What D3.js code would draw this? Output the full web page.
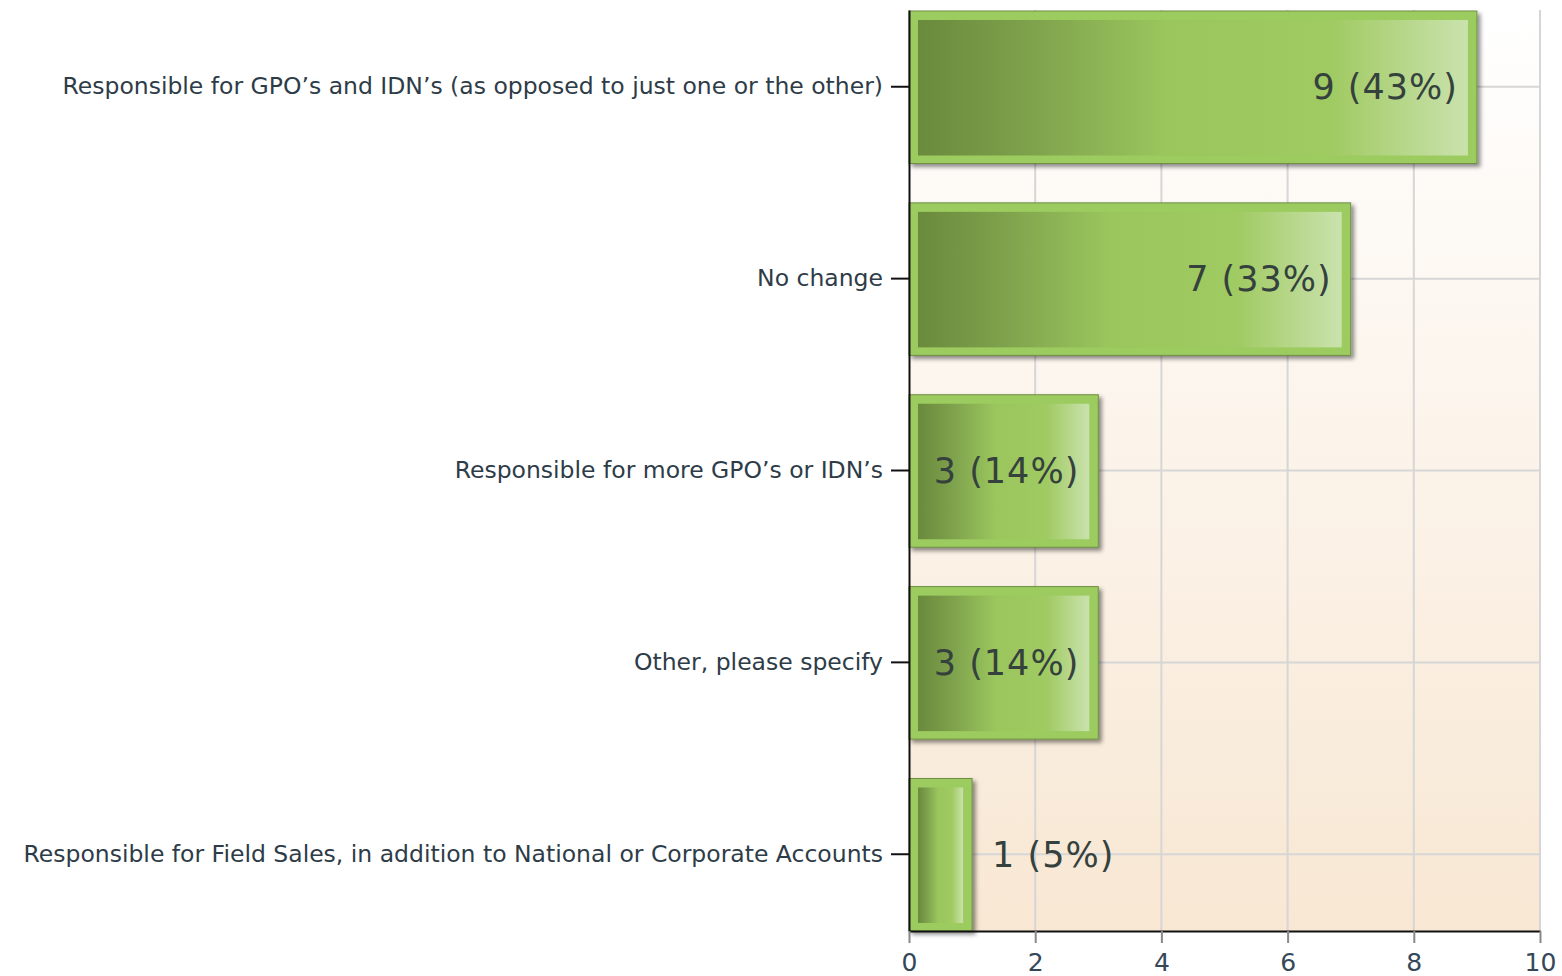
<!DOCTYPE html>
<html><head><meta charset="utf-8">
<script src="https://cdn.jsdelivr.net/npm/d3@7"></script>
<style>html,body{margin:0;padding:0;background:#fff;}svg{display:block;}</style>
</head><body>
<svg id="chart" width="1562" height="976"></svg>
<script>
const categories = [
  "Responsible for GPO’s and IDN’s (as opposed to just one or the other)",
  "No change",
  "Responsible for more GPO’s or IDN’s",
  "Other, please specify",
  "Responsible for Field Sales, in addition to National or Corporate Accounts"
];
const counts = [9, 7, 3, 3, 1];
const percents = [43, 33, 14, 14, 5];
const xTicks = [0, 2, 4, 6, 8, 10];

const svg = d3.select("#chart");
const m = {left: 909, right: 1540, top: 10, bottom: 931};
const x = d3.scaleLinear().domain([0, 10]).range([m.left, m.right]);
const y = d3.scaleBand().domain(categories).range([m.top, m.bottom]).paddingInner(0.2).paddingOuter(0);

const defs = svg.append("defs");
const bg = defs.append("linearGradient").attr("id","bg").attr("x1",0).attr("y1",0).attr("x2",0).attr("y2",1);
bg.append("stop").attr("offset",0).attr("stop-color","#ffffff");
bg.append("stop").attr("offset",1).attr("stop-color","#f8e7d3");
const bar = defs.append("linearGradient").attr("id","barg").attr("x1",0).attr("y1",0).attr("x2",1).attr("y2",0);
[[0,"#6a8a3c"],[0.2,"#7ea14c"],[0.45,"#9ac65d"],[0.75,"#a0ca62"],[1,"#cae2ad"]].forEach(s=>
  bar.append("stop").attr("offset",s[0]).attr("stop-color",s[1]));
const sh = defs.append("filter").attr("id","shadow").attr("x","-10%").attr("y","-10%").attr("width","130%").attr("height","130%");
sh.append("feDropShadow").attr("dx",3).attr("dy",3).attr("stdDeviation",2).attr("flood-color","#000").attr("flood-opacity",0.45);

svg.append("rect").attr("x",m.left).attr("y",m.top).attr("width",m.right-m.left).attr("height",m.bottom-m.top).attr("fill","url(#bg)");

// grid
svg.append("g").selectAll("line.v").data(xTicks.slice(1)).join("line")
  .attr("x1",d=>x(d)).attr("x2",d=>x(d)).attr("y1",m.top).attr("y2",m.bottom)
  .attr("stroke","#d6d6d6").attr("stroke-width",2);
svg.append("g").selectAll("line.h").data(categories).join("line")
  .attr("x1",m.left).attr("x2",m.right).attr("y1",d=>y(d)+y.bandwidth()/2).attr("y2",d=>y(d)+y.bandwidth()/2)
  .attr("stroke","#d6d6d6").attr("stroke-width",2);

// bars
const g = svg.append("g").selectAll("g").data(categories).join("g");
g.append("rect")
  .attr("x",x(0)).attr("y",d=>y(d)+1).attr("width",(d,i)=>x(counts[i])-x(0)).attr("height",y.bandwidth()-1)
  .attr("fill","#9ccb5e").attr("stroke","#6f8f45").attr("stroke-width",1).attr("filter","url(#shadow)");
g.append("rect")
  .attr("x",x(0)+9).attr("y",d=>y(d)+10).attr("width",(d,i)=>x(counts[i])-x(0)-18).attr("height",y.bandwidth()-18)
  .attr("fill","url(#barg)");

// value labels
g.append("text")
  .attr("y",d=>y(d)+y.bandwidth()/2)
  .attr("dy","0.36em")
  .attr("font-family","DejaVu Sans, Verdana, sans-serif").attr("font-size",35)
  .attr("letter-spacing",1)
  .attr("fill","#35413c")
  .each(function(d,i){
    const t = d3.select(this).text(`${counts[i]} (${percents[i]}%)`);
    const w = this.getComputedTextLength();
    const bw = x(counts[i]) - x(0);
    if (w + 40 < bw) t.attr("x", x(counts[i]) - 19).attr("text-anchor","end");
    else t.attr("x", x(counts[i]) + 20).attr("text-anchor","start");
  });

// axes
const yAxis = svg.append("g").attr("transform",`translate(${m.left},0)`)
  .call(d3.axisLeft(y).tickSize(18).tickSizeOuter(0).tickPadding(8));
yAxis.select(".domain").attr("stroke","#111").attr("stroke-width",2);
yAxis.selectAll(".tick line").attr("stroke","#111").attr("stroke-width",2);
yAxis.selectAll(".tick text").attr("font-family","DejaVu Sans, Verdana, sans-serif").attr("font-size",23.5)
  .attr("fill","#2e3c48");

const xAxis = svg.append("g").attr("transform",`translate(0,${m.bottom})`)
  .call(d3.axisBottom(x).tickValues(xTicks).tickSize(12).tickSizeOuter(0).tickPadding(10).tickFormat(d3.format("d")));
xAxis.select(".domain").attr("stroke","#111").attr("stroke-width",2);
xAxis.selectAll(".tick line").attr("stroke","#888").attr("stroke-width",2);
xAxis.selectAll(".tick text").attr("font-family","DejaVu Sans, Verdana, sans-serif").attr("font-size",25)
  .attr("fill","#34485a");
</script>
</body></html>
